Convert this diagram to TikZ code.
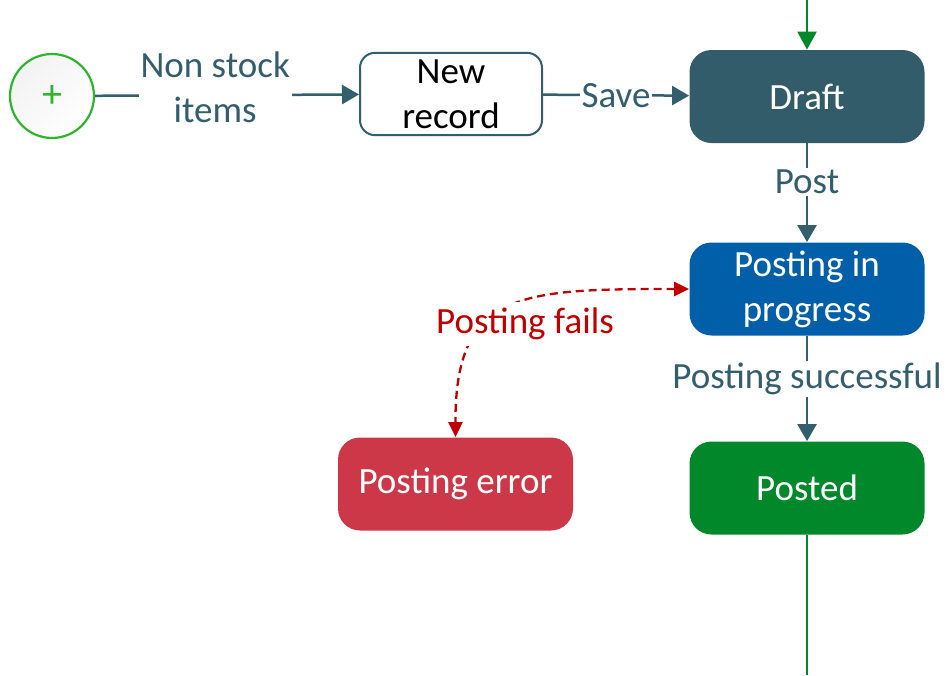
\documentclass[tikz,border=0pt]{standalone}
\usepackage{fontspec}
\setmainfont{Carlito}
\usepackage{xcolor}
\usetikzlibrary{arrows.meta}
\definecolor{slate}{HTML}{335E6E}
\definecolor{draftc}{HTML}{335C6B}
\definecolor{bluec}{HTML}{005FA8}
\definecolor{greenc}{HTML}{00882A}
\definecolor{startc}{HTML}{2DB52D}
\definecolor{errc}{HTML}{CD3849}
\definecolor{failc}{HTML}{C00000}
\tikzset{
	state/.style={rounded corners=11pt,minimum width=117.5pt,minimum height=46.5pt,
		align=center,text=white,font=\fontsize{18.5}{22.5}\selectfont},
	flow/.style={draw=slate,line width=1.25pt,-{Triangle[length=8.5pt,width=9.5pt]}},
	lbl/.style={fill=white,text=slate,inner sep=1pt,align=center,
		font=\fontsize{18.5}{22.5}\selectfont},
	failarrow/.style={draw=failc,line width=1.15pt,dash pattern=on 4pt off 2.5pt,
		{Triangle[length=7.5pt,width=7pt]}-{Triangle[length=7.5pt,width=7pt]}}
}

\begin{document}
\begin{tikzpicture}[x=0.5pt,y=-0.5pt]
	\useasboundingbox (0,0) rectangle (951,675);
	% start event
	\node[circle,draw=startc,line width=1.1pt,minimum size=42pt,inner sep=0pt,
		top color=black!5,bottom color=white,shading angle=45,
		text=startc,font=\fontsize{20}{24}\selectfont] (start) at (52,96) {+};
	% states
	\node[draw=slate,line width=1pt,rounded corners=7.5pt,minimum width=91pt,
		minimum height=41pt,align=center,font=\fontsize{18.5}{22.5}\selectfont]
		(newrec) at (451,94) {New\\record};
	\node[state,fill=draftc] (draft) at (807,96.5) {Draft};
	\node[state,fill=bluec] (progress) at (807,289) {Posting in\\progress};
	\node[state,fill=greenc] (posted) at (807,488) {Posted};
	\node[state,fill=errc] (error) at (455.5,484) {Posting error};
	\coordinate (topin) at (807,0);
	\coordinate (botout) at (807,675);
	% connectors
	\draw[flow] (start) -- node[lbl,pos=0.455,yshift=4pt] {Non stock\\items} (newrec);
	\draw[flow] (newrec) -- node[lbl] {Save} (draft);
	\draw[flow] (draft) -- node[lbl,pos=0.39] {Post} (progress);
	\draw[flow] (progress) -- node[lbl,pos=0.41] {Posting successful} (posted);
	\draw[draw=greenc,line width=1.25pt,-{Triangle[length=9pt,width=9.5pt]}] (topin) -- (draft);
	\draw[draw=greenc,line width=1.25pt] (posted) -- (botout);
	% failure path
	\draw[failarrow] (progress.west) .. controls (520,289) and (455,291) .. (error.north);
	\node[lbl,text=failc,inner sep=3pt] (fails) at (525,324) {Posting fails};
\end{tikzpicture}
\end{document}
